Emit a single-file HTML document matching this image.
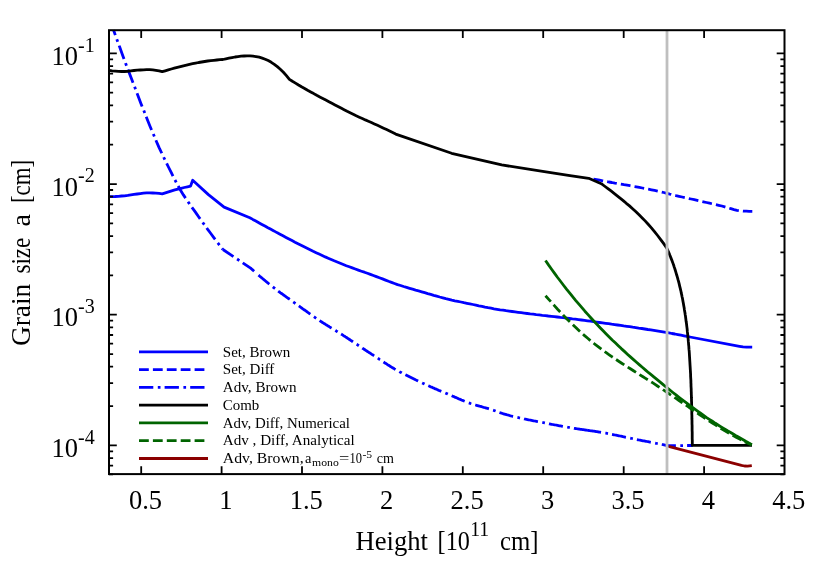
<!DOCTYPE html>
<html><head><meta charset="utf-8"><title>plot</title>
<style>
html,body{margin:0;padding:0;background:#fff;}
svg{display:block;will-change:transform;font-family:"Liberation Serif",serif;}
.tk{font-size:26.5px;fill:#000;}
.sup{font-size:20px;fill:#000;}
.lb{font-size:27px;fill:#000;}
.lg{font-size:14px;fill:#000;}
.lsub{font-size:10px;fill:#000;}
</style></head>
<body>
<svg width="830" height="581" viewBox="0 0 830 581">
<rect width="830" height="581" fill="#fff"/>
<g fill="none" stroke-width="2.8" stroke-linejoin="round">
<path d="M109.0 196.7 L112.1 196.6 L115.3 196.5 L118.4 196.3 L121.5 196.0 L124.6 195.8 L127.8 195.4 L130.9 194.9 L134.0 194.4 L137.2 194.0 L140.3 193.6 L143.4 193.2 L146.6 192.9 L149.7 192.9 L152.8 193.0 L155.9 193.1 L159.1 193.4 L162.2 193.8 L162.2 193.8 L165.4 192.8 L168.5 191.8 L171.7 190.8 L174.8 189.9 L178.0 189.1 L181.1 188.3 L184.3 187.5 L187.4 186.8 L190.6 186.1 L192.7 180.3 L208.4 194.6 L224.1 207.1 L224.1 207.1 L249.8 217.7 L249.8 217.7 L252.8 219.4 L255.8 221.0 L258.8 222.7 L261.9 224.4 L264.9 226.0 L267.9 227.7 L270.9 229.3 L273.9 230.9 L276.9 232.6 L280.0 234.2 L283.0 235.8 L286.0 237.4 L289.0 239.0 L292.0 240.6 L295.0 242.2 L298.0 243.7 L301.1 245.3 L304.1 246.8 L307.1 248.3 L310.1 249.8 L313.1 251.3 L316.1 252.7 L319.1 254.1 L322.2 255.5 L325.2 256.9 L328.2 258.2 L331.2 259.5 L334.2 260.8 L337.2 262.0 L340.3 263.3 L343.3 264.5 L346.3 265.7 L349.3 266.8 L352.3 267.9 L355.3 269.0 L358.3 270.1 L361.4 271.2 L364.4 272.2 L367.4 273.3 L370.4 274.4 L373.4 275.5 L376.4 276.6 L379.4 277.7 L382.5 278.9 L385.5 280.1 L388.5 281.3 L391.5 282.4 L394.5 283.5 L397.5 284.6 L400.6 285.5 L403.6 286.5 L406.6 287.4 L409.6 288.3 L412.6 289.2 L415.6 290.1 L418.6 290.9 L421.7 291.8 L424.7 292.7 L427.7 293.6 L430.7 294.4 L433.7 295.3 L436.7 296.1 L439.7 297.0 L442.8 297.8 L445.8 298.6 L448.8 299.3 L451.8 300.1 L454.8 300.8 L457.8 301.4 L460.9 302.0 L463.9 302.7 L466.9 303.3 L469.9 303.9 L472.9 304.5 L475.9 305.1 L478.9 305.8 L482.0 306.4 L485.0 307.1 L488.0 307.7 L491.0 308.2 L494.0 308.8 L497.0 309.3 L500.1 309.8 L503.1 310.2 L506.1 310.7 L509.1 311.1 L512.1 311.5 L515.1 311.9 L518.1 312.3 L521.2 312.7 L524.2 313.1 L527.2 313.5 L530.2 313.9 L533.2 314.2 L536.2 314.6 L539.2 314.9 L542.3 315.3 L545.3 315.6 L548.3 316.0 L551.3 316.3 L554.3 316.6 L557.3 317.0 L560.4 317.4 L563.4 317.7 L566.4 318.1 L569.4 318.5 L572.4 318.9 L575.4 319.2 L578.4 319.6 L581.5 320.0 L584.5 320.4 L587.5 320.8 L590.5 321.2 L593.5 321.7 L596.5 322.1 L599.5 322.5 L602.6 322.9 L605.6 323.3 L608.6 323.7 L611.6 324.2 L614.6 324.6 L617.6 325.0 L620.7 325.4 L623.7 325.9 L626.7 326.3 L629.7 326.7 L632.7 327.2 L635.7 327.6 L638.7 328.1 L641.8 328.5 L644.8 329.0 L647.8 329.5 L650.8 329.9 L653.8 330.4 L656.8 330.9 L659.8 331.4 L662.9 331.9 L665.9 332.4 L668.9 332.9 L671.9 333.5 L674.9 334.0 L677.9 334.6 L681.0 335.2 L684.0 335.8 L687.0 336.4 L690.0 337.0 L690.0 337.0 L739.5 346.3 L743.0 346.9 L746.5 347.2 L752.2 347.2" stroke="#00f"/>
<path d="M593.5 179.0 L596.6 179.6 L599.6 180.2 L602.7 180.8 L605.7 181.4 L608.8 182.0 L611.8 182.5 L614.9 183.1 L617.9 183.6 L621.0 184.1 L624.0 184.7 L627.1 185.2 L630.1 185.7 L633.2 186.3 L636.3 186.8 L639.3 187.4 L642.4 188.0 L645.4 188.6 L648.5 189.2 L651.5 189.8 L654.6 190.4 L657.6 191.1 L660.7 191.8 L663.7 192.5 L666.8 193.3 L669.8 194.1 L672.9 194.8 L676.0 195.6 L679.0 196.3 L682.1 197.0 L685.1 197.7 L688.2 198.4 L691.2 199.0 L694.3 199.7 L697.3 200.4 L700.4 201.1 L703.4 201.8 L706.5 202.5 L709.5 203.2 L712.6 203.9 L715.7 204.6 L718.7 205.3 L721.8 206.0 L724.8 206.9 L727.9 207.8 L730.9 208.7 L734.0 209.6 L737.0 210.3 L740.1 210.8 L743.1 211.1 L746.2 211.2 L749.2 211.4 L752.3 211.4" stroke="#00f" stroke-dasharray="9.8 4.1"/>
<path d="M113.6 30.2 L116.6 38.7 L119.7 47.1 L122.7 55.4 L125.7 63.6 L128.8 71.7 L131.8 79.6 L134.9 87.6 L137.9 95.5 L140.9 103.4 L144.0 111.1 L147.0 118.8 L150.0 126.3 L153.1 133.6 L156.1 140.7 L159.1 147.6 L162.2 154.2 L165.2 160.4 L168.2 166.5 L171.3 172.7 L174.3 178.7 L177.4 184.6 L180.4 190.0 L183.4 194.9 L186.5 199.5 L189.5 203.9 L192.5 208.2 L195.6 212.4 L198.6 216.7 L201.6 221.0 L204.7 225.2 L207.7 229.4 L210.8 233.5 L213.8 237.6 L216.8 241.6 L219.9 245.6 L222.9 249.5" stroke="#00f" stroke-dasharray="14.2 4.4 2.7 4.1" stroke-dashoffset="9"/>
<path d="M222.9 249.5 L250.6 268.1 L250.6 268.1 L251.6 269.0 L252.6 269.9 L253.6 270.8 L254.6 271.7 L255.6 272.6 L256.5 273.4" stroke="#00f" stroke-dasharray="14.2 4.4 2.7 4.1" stroke-dashoffset="1.5"/>
<path d="M258.5 275.1 L259.5 276.0 L260.5 276.8 L261.5 277.7 L262.5 278.5 L263.5 279.3 L264.5 280.2 L265.5 281.0 L266.5 281.8 L267.5 282.7 L268.5 283.5 L269.5 284.3 L270.5 285.1 L271.5 285.9 L272.5 286.7 L273.5 287.5 L274.5 288.2 L275.5 289.0 L276.5 289.8 L277.5 290.5 L278.5 291.3 L279.5 292.0 L280.5 292.8 L281.5 293.5 L282.5 294.2 L283.5 295.0 L284.5 295.7 L285.5 296.4 L286.5 297.1 L287.5 297.8 L288.5 298.5 L289.5 299.2 L290.5 299.9 L291.5 300.6 L292.5 301.4 L293.5 302.1 L294.5 302.8 L295.5 303.5 L296.5 304.2 L297.5 304.9 L298.5 305.7 L299.5 306.4 L300.5 307.1 L301.5 307.8 L302.5 308.6 L303.5 309.3 L304.5 310.0 L305.5 310.7 L306.5 311.4 L307.5 312.2 L308.5 312.9 L309.5 313.6 L310.5 314.3 L311.5 315.0 L312.5 315.7 L313.5 316.4 L314.5 317.1 L315.5 317.8 L316.5 318.5 L317.5 319.2 L318.5 319.8 L319.5 320.5 L320.5 321.2 L321.5 321.8 L322.5 322.5 L323.5 323.1 L324.5 323.7 L325.5 324.4 L326.5 325.0 L327.5 325.6 L328.5 326.2 L329.5 326.9 L330.5 327.5 L331.5 328.1 L332.5 328.7 L333.5 329.3 L334.5 329.9 L335.5 330.5 L336.5 331.2 L337.5 331.8 L338.5 332.4 L339.5 333.0 L340.5 333.7 L341.5 334.3 L342.5 334.9 L343.5 335.6 L344.5 336.2 L345.5 336.9 L346.5 337.5 L347.5 338.2 L348.5 338.8 L349.5 339.5 L350.5 340.2 L351.5 340.8 L352.5 341.5 L353.5 342.2 L354.5 342.8 L355.5 343.5 L356.5 344.2 L357.5 344.8 L358.5 345.5 L359.5 346.2 L360.5 346.8 L361.5 347.5 L362.5 348.2 L363.5 348.8 L364.5 349.5 L365.5 350.2 L366.5 350.8 L367.5 351.5 L368.5 352.1 L369.5 352.8 L370.5 353.4 L371.5 354.1 L372.5 354.7 L373.5 355.4 L374.5 356.1 L375.5 356.7 L376.5 357.4 L377.5 358.0 L378.5 358.7 L379.5 359.4 L380.5 360.0 L381.5 360.7 L382.5 361.3 L383.5 362.0 L384.5 362.7 L385.5 363.3 L386.5 363.9 L387.5 364.6 L388.5 365.2 L389.5 365.8 L390.5 366.5 L391.5 367.1 L392.5 367.7 L393.5 368.3 L394.5 368.9 L395.5 369.4 L396.5 370.0 L397.5 370.6 L398.5 371.1 L399.5 371.7 L400.5 372.2 L401.5 372.7 L402.5 373.3 L403.5 373.8 L404.5 374.3 L405.5 374.8 L406.5 375.3 L407.5 375.8 L408.5 376.3 L409.5 376.8 L410.5 377.3 L411.5 377.8 L412.5 378.3 L413.5 378.8 L414.5 379.3 L415.5 379.8 L416.5 380.2 L417.5 380.7 L418.5 381.2 L419.5 381.7 L420.5 382.1 L421.5 382.6 L422.5 383.1 L423.5 383.5 L424.5 384.0 L425.5 384.5 L426.5 384.9 L427.5 385.4 L428.5 385.8 L429.5 386.2 L430.5 386.7 L431.5 387.1 L432.5 387.6 L433.5 388.0 L434.5 388.4 L435.5 388.9 L436.5 389.3 L437.5 389.7 L438.5 390.2 L439.5 390.6 L440.5 391.0 L441.5 391.4 L442.5 391.8 L443.5 392.3 L444.5 392.7 L445.5 393.1 L446.5 393.5 L447.5 393.9 L448.5 394.4 L449.5 394.8 L450.5 395.2 L451.5 395.6 L452.5 396.1 L453.5 396.5 L454.5 396.9 L455.5 397.4 L456.5 397.8 L457.5 398.2 L458.5 398.7 L459.5 399.1 L460.5 399.5 L461.5 400.0 L462.5 400.4 L463.5 400.8 L464.5 401.2 L465.5 401.6 L466.5 402.0 L467.5 402.4 L468.5 402.8 L469.5 403.1 L470.5 403.5 L471.5 403.8 L472.5 404.1 L473.5 404.4 L474.5 404.7 L475.5 405.0 L476.5 405.3 L477.5 405.6 L478.5 405.9 L479.5 406.2 L480.5 406.4 L481.5 406.7 L482.5 407.0 L483.5 407.3 L484.5 407.5 L485.5 407.8 L486.5 408.1 L487.5 408.4 L488.5 408.7 L489.5 409.0 L490.5 409.3 L491.5 409.6 L492.5 410.0 L493.5 410.3 L494.5 410.7 L495.5 411.0 L496.5 411.4 L497.5 411.7 L498.5 412.1 L499.5 412.5 L500.5 412.8 L501.5 413.2 L502.5 413.5 L503.5 413.8 L504.5 414.1 L505.5 414.4 L506.5 414.7 L507.5 415.0 L508.5 415.2 L509.5 415.5 L510.5 415.8 L511.5 416.0 L512.5 416.3 L513.5 416.5 L514.5 416.7 L515.5 417.0 L516.5 417.2 L517.5 417.4 L518.5 417.7 L519.5 417.9 L520.5 418.1 L521.5 418.3 L522.5 418.5 L523.5 418.7 L524.5 419.0 L525.5 419.2 L526.5 419.4 L527.5 419.6 L528.5 419.8 L529.5 420.0 L530.5 420.2 L531.5 420.4 L532.5 420.6 L533.5 420.8 L534.5 421.0 L535.5 421.2 L536.5 421.4 L537.5 421.6 L538.5 421.8 L539.5 421.9 L540.5 422.1 L541.5 422.3 L542.5 422.5 L543.5 422.7 L544.5 422.9 L545.5 423.1 L546.5 423.3 L547.5 423.5 L548.5 423.7 L549.5 423.9 L550.5 424.1 L551.5 424.3 L552.5 424.5 L553.5 424.7 L554.5 424.8 L555.5 425.0 L556.5 425.2 L557.5 425.4 L558.5 425.6 L559.5 425.8 L560.5 425.9 L561.5 426.1 L562.5 426.3 L563.5 426.5 L564.5 426.7 L565.5 426.8 L566.5 427.0 L567.5 427.2 L568.5 427.3 L569.5 427.5 L570.5 427.7 L571.5 427.9 L572.5 428.0 L573.5 428.2 L574.5 428.4 L575.5 428.5 L576.5 428.7 L577.5 428.8 L578.5 429.0 L579.5 429.1 L580.5 429.3 L581.5 429.4 L582.5 429.6 L583.5 429.7 L584.5 429.9 L585.5 430.0 L586.5 430.2 L587.0 430.2" stroke="#00f" stroke-dasharray="14.2 4.4 2.7 4.1"/>
<path d="M587.0 430.2 L588.0 430.4 L589.0 430.5 L590.0 430.7 L591.0 430.8 L592.0 430.9 L593.0 431.1 L594.0 431.2 L595.0 431.4 L596.0 431.5 L597.0 431.7 L598.0 431.9 L599.0 432.0 L600.0 432.2 L601.0 432.4 L602.0 432.5 L603.0 432.7 L604.0 432.9 L605.0 433.1 L606.0 433.2 L607.0 433.4 L608.0 433.6 L609.0 433.8 L610.0 434.0 L611.0 434.2 L612.0 434.4 L613.0 434.6 L614.0 434.8 L615.0 435.0 L616.0 435.2 L617.0 435.4 L618.0 435.6 L619.0 435.8 L620.0 436.0 L621.0 436.2 L622.0 436.4 L623.0 436.7 L624.0 436.9 L625.0 437.1 L626.0 437.3 L627.0 437.5 L628.0 437.7 L629.0 437.9 L630.0 438.1 L631.0 438.3 L632.0 438.5 L633.0 438.7 L634.0 439.0 L635.0 439.2 L636.0 439.4 L637.0 439.6 L638.0 439.8 L639.0 440.0 L640.0 440.2 L641.0 440.4 L642.0 440.6 L643.0 440.8 L644.0 440.9 L645.0 441.1 L646.0 441.3 L647.0 441.5 L648.0 441.7 L649.0 441.9 L650.0 442.1 L651.0 442.3 L652.0 442.5 L653.0 442.7 L654.0 442.9 L655.0 443.1 L656.0 443.3 L657.0 443.5 L658.0 443.7 L659.0 443.9 L660.0 444.1 L661.0 444.3 L662.0 444.5 L663.0 444.7 L664.0 444.9 L665.0 445.1 L666.0 445.3 L667.0 445.5 L667.6 445.6 L667.6 445.6 L692.7 445.5" stroke="#00f" stroke-dasharray="14.2 4.4 2.7 4.1"/>
<path d="M109.0 70.3 L112.1 70.8 L115.3 71.1 L118.4 71.4 L121.5 71.5 L124.6 71.5 L127.8 71.3 L130.9 70.9 L134.0 70.5 L137.2 70.2 L140.3 70.0 L143.4 69.8 L146.6 69.6 L149.7 69.6 L152.8 69.9 L155.9 70.3 L159.1 70.9 L162.2 71.7 L162.2 71.7 L165.2 70.8 L168.3 69.9 L171.3 69.0 L174.3 68.2 L177.4 67.4 L180.4 66.6 L183.4 65.8 L186.5 65.1 L189.5 64.4 L192.6 63.7 L195.6 63.1 L198.6 62.5 L201.7 62.0 L204.7 61.5 L207.7 61.0 L210.8 60.6 L213.8 60.3 L216.8 60.0 L219.9 59.7 L222.9 59.5 L222.9 59.5 L225.9 58.8 L228.9 58.2 L232.0 57.6 L235.0 57.0 L238.0 56.6 L241.0 56.2 L244.1 56.0 L247.1 55.9 L250.1 55.9 L253.1 56.2 L256.1 56.6 L259.2 57.2 L262.2 58.1 L265.2 59.2 L268.2 60.6 L271.3 62.3 L274.3 64.3 L277.3 66.6 L280.3 69.2 L283.4 72.2 L286.4 75.6 L289.4 79.4 L289.4 79.4 L292.4 81.3 L295.5 83.1 L298.5 85.0 L301.5 86.8 L304.6 88.5 L307.6 90.3 L310.7 92.0 L313.7 93.6 L316.7 95.3 L319.8 96.9 L322.8 98.5 L325.8 100.1 L328.9 101.7 L331.9 103.3 L335.0 104.9 L338.0 106.5 L341.0 108.1 L344.1 109.7 L347.1 111.3 L350.1 112.8 L353.2 114.3 L356.2 115.8 L359.3 117.2 L362.3 118.5 L365.3 119.9 L368.4 121.2 L371.4 122.5 L374.4 123.9 L377.5 125.3 L380.5 126.7 L383.6 128.2 L386.6 129.6 L389.6 131.1 L392.7 132.6 L395.7 134.1 L395.7 134.1 L451.6 153.3 L501.7 164.9 L544.3 171.7 L570.0 175.7 L588.7 178.3 L588.7 178.3 L601.3 183.7 L601.3 183.7 L604.4 186.0 L607.6 188.3 L610.7 190.7 L613.8 193.1 L616.9 195.6 L620.1 198.1 L623.2 200.6 L626.3 203.3 L629.5 205.9 L632.6 208.7 L635.7 211.6 L638.8 214.6 L642.0 217.7 L645.1 220.9 L648.2 224.3 L651.4 227.9 L654.5 231.6 L657.6 235.5 L660.7 239.6 L663.9 243.9 L667.0 248.5 L667.0 248.5 L667.7 250.2 L668.5 251.8 L669.2 253.5 L669.8 255.1 L670.5 256.8 L671.1 258.4 L671.8 260.1 L672.4 261.7 L673.0 263.4 L673.6 265.0 L674.1 266.7 L674.7 268.4 L675.2 270.0 L675.7 271.7 L676.2 273.3 L676.7 275.0 L677.2 276.6 L677.7 278.3 L678.1 279.9 L678.6 281.6 L679.0 283.2 L679.4 284.9 L679.8 286.6 L680.2 288.2 L680.6 289.9 L681.0 291.5 L681.3 293.2 L681.7 294.8 L682.0 296.5 L682.4 298.1 L682.7 299.8 L683.0 301.4 L683.3 303.1 L683.6 304.8 L683.9 306.4 L684.2 308.1 L684.4 309.7 L684.7 311.4 L685.0 313.0 L685.2 314.7 L685.5 316.3 L685.7 318.0 L685.9 319.6 L686.1 321.3 L686.4 323.0 L686.6 324.6 L686.8 326.3 L687.0 327.9 L687.2 329.6 L687.3 331.2 L687.5 332.9 L687.7 334.5 L687.9 336.2 L688.0 337.8 L688.2 339.5 L688.3 341.2 L688.5 342.8 L688.6 344.5 L688.8 346.1 L688.9 347.8 L689.0 349.4 L689.2 351.1 L689.3 352.7 L689.4 354.4 L689.5 356.1 L689.6 357.7 L689.7 359.4 L689.8 361.0 L689.9 362.7 L690.0 364.3 L690.1 366.0 L690.2 367.6 L690.3 369.3 L690.4 370.9 L690.5 372.6 L690.6 374.3 L690.6 375.9 L690.7 377.6 L690.8 379.2 L690.9 380.9 L690.9 382.5 L691.0 384.2 L691.0 385.8 L691.1 387.5 L691.2 389.1 L691.2 390.8 L691.3 392.5 L691.3 394.1 L691.4 395.8 L691.4 397.4 L691.5 399.1 L691.5 400.7 L691.6 402.4 L691.6 404.0 L691.7 405.7 L691.7 407.3 L691.7 409.0 L691.8 410.7 L691.8 412.3 L691.8 414.0 L691.9 415.6 L691.9 417.3 L691.9 418.9 L692.0 420.6 L692.0 422.2 L692.0 423.9 L692.1 425.5 L692.1 427.2 L692.1 428.9 L692.1 430.5 L692.2 432.2 L692.2 433.8 L692.2 435.5 L692.2 437.1 L692.2 438.8 L692.3 440.4 L692.3 442.1 L692.3 443.7 L692.3 445.4 L692.7 445.4 L752.0 445.4" stroke="#000"/>
<path d="M545.5 260.5 L548.5 264.9 L551.6 269.2 L554.6 273.4 L557.6 277.5 L560.7 281.5 L563.7 285.5 L566.7 289.4 L569.8 293.2 L572.8 296.9 L575.8 300.6 L578.9 304.2 L581.9 307.7 L584.9 311.2 L588.0 314.6 L591.0 318.0 L594.0 321.3 L597.1 324.5 L600.1 327.7 L603.1 330.8 L606.2 333.9 L609.2 336.9 L612.2 339.9 L615.3 342.8 L618.3 345.7 L621.3 348.6 L624.4 351.4 L627.4 354.2 L630.4 356.9 L633.5 359.6 L636.5 362.3 L639.5 364.9 L642.6 367.5 L645.6 370.1 L648.6 372.7 L651.7 375.2 L654.7 377.7 L657.8 380.2 L660.8 382.7 L663.8 385.2 L666.9 387.6 L669.9 390.1 L672.9 392.5 L676.0 394.9 L679.0 397.3 L682.0 399.6 L685.1 401.9 L688.1 404.2 L691.1 406.5 L694.2 408.7 L697.2 410.9 L700.2 413.0 L703.3 415.2 L706.3 417.3 L709.3 419.3 L712.4 421.3 L715.4 423.3 L718.4 425.2 L721.5 427.1 L724.5 428.9 L727.5 430.8 L730.6 432.5 L733.6 434.3 L736.6 436.1 L739.7 437.8 L742.7 439.5 L745.7 441.3 L748.8 443.0 L751.8 444.7" stroke="#006400"/>
<path d="M545.5 295.7 L548.5 299.1 L551.6 302.5 L554.6 305.9 L557.6 309.2 L560.7 312.4 L563.7 315.6 L566.7 318.7 L569.8 321.7 L572.8 324.7 L575.8 327.6 L578.9 330.5 L581.9 333.2 L584.9 335.9 L588.0 338.5 L591.0 341.1 L594.0 343.5 L597.1 345.9 L600.1 348.2 L603.1 350.5 L606.2 352.7 L609.2 354.8 L612.2 356.9 L615.3 359.0 L618.3 361.0 L621.3 363.0 L624.4 365.0 L627.4 366.9 L630.4 368.8 L633.5 370.8 L636.5 372.7 L639.5 374.6 L642.6 376.5 L645.6 378.4 L648.6 380.3 L651.7 382.2 L654.7 384.2 L657.8 386.2 L660.8 388.2 L663.8 390.2 L666.9 392.2 L669.9 394.3 L672.9 396.3 L676.0 398.4 L679.0 400.5 L682.0 402.6 L685.1 404.7 L688.1 406.7 L691.1 408.8 L694.2 410.9 L697.2 412.9 L700.2 415.0 L703.3 417.0 L706.3 419.0 L709.3 421.0 L712.4 423.0 L715.4 424.9 L718.4 426.8 L721.5 428.7 L724.5 430.5 L727.5 432.3 L730.6 434.1 L733.6 435.8 L736.6 437.5 L739.7 439.1 L742.7 440.6 L745.7 442.2 L748.8 443.6 L751.8 445.0" stroke="#006400" stroke-dasharray="9.8 4.1" stroke-dashoffset="1.8"/>
<path d="M668.5 446.3 L741.5 465.4 L744.5 466.0 L747.5 466.1 L751.8 465.6" stroke="#8b0000"/>
</g>
<path d="M667 30.2 V474.1" stroke="#bfbfbf" stroke-width="2.78" fill="none"/>
<path d="M141.2 474.1 V466.3 M141.2 30.2 V38.0 M221.6 474.1 V466.3 M221.6 30.2 V38.0 M302.0 474.1 V466.3 M302.0 30.2 V38.0 M382.4 474.1 V466.3 M382.4 30.2 V38.0 M462.8 474.1 V466.3 M462.8 30.2 V38.0 M543.2 474.1 V466.3 M543.2 30.2 V38.0 M623.7 474.1 V466.3 M623.7 30.2 V38.0 M704.1 474.1 V466.3 M704.1 30.2 V38.0 M109.0 474.4 H113.1 M784.5 474.4 H780.4 M109.0 465.6 H113.1 M784.5 465.6 H780.4 M109.0 458.1 H113.1 M784.5 458.1 H780.4 M109.0 451.4 H113.1 M784.5 451.4 H780.4 M109.0 445.4 H116.8 M784.5 445.4 H776.7 M109.0 406.1 H113.1 M784.5 406.1 H780.4 M109.0 383.1 H113.1 M784.5 383.1 H780.4 M109.0 366.7 H113.1 M784.5 366.7 H780.4 M109.0 354.1 H113.1 M784.5 354.1 H780.4 M109.0 343.7 H113.1 M784.5 343.7 H780.4 M109.0 335.0 H113.1 M784.5 335.0 H780.4 M109.0 327.4 H113.1 M784.5 327.4 H780.4 M109.0 320.7 H113.1 M784.5 320.7 H780.4 M109.0 314.7 H116.8 M784.5 314.7 H776.7 M109.0 275.4 H113.1 M784.5 275.4 H780.4 M109.0 252.4 H113.1 M784.5 252.4 H780.4 M109.0 236.1 H113.1 M784.5 236.1 H780.4 M109.0 223.4 H113.1 M784.5 223.4 H780.4 M109.0 213.1 H113.1 M784.5 213.1 H780.4 M109.0 204.3 H113.1 M784.5 204.3 H780.4 M109.0 196.7 H113.1 M784.5 196.7 H780.4 M109.0 190.0 H113.1 M784.5 190.0 H780.4 M109.0 184.1 H116.8 M784.5 184.1 H776.7 M109.0 144.7 H113.1 M784.5 144.7 H780.4 M109.0 121.7 H113.1 M784.5 121.7 H780.4 M109.0 105.4 H113.1 M784.5 105.4 H780.4 M109.0 92.7 H113.1 M784.5 92.7 H780.4 M109.0 82.4 H113.1 M784.5 82.4 H780.4 M109.0 73.6 H113.1 M784.5 73.6 H780.4 M109.0 66.1 H113.1 M784.5 66.1 H780.4 M109.0 59.4 H113.1 M784.5 59.4 H780.4 M109.0 53.4 H116.8 M784.5 53.4 H776.7" stroke="#000" stroke-width="1.8" fill="none"/>
<rect x="109.0" y="30.2" width="675.5" height="443.90000000000003" fill="none" stroke="#000" stroke-width="2"/>
<text class="tk" x="145.5" y="509.2" text-anchor="middle">0.5</text>
<text class="tk" x="225.9" y="509.2" text-anchor="middle">1</text>
<text class="tk" x="306.3" y="509.2" text-anchor="middle">1.5</text>
<text class="tk" x="386.7" y="509.2" text-anchor="middle">2</text>
<text class="tk" x="467.1" y="509.2" text-anchor="middle">2.5</text>
<text class="tk" x="547.5" y="509.2" text-anchor="middle">3</text>
<text class="tk" x="628.0" y="509.2" text-anchor="middle">3.5</text>
<text class="tk" x="708.4" y="509.2" text-anchor="middle">4</text>
<text class="tk" x="788.8" y="509.2" text-anchor="middle">4.5</text>
<text class="tk" x="51.5" y="64.8">10<tspan class="sup" dy="-13.3">-1</tspan></text>
<text class="tk" x="51.5" y="195.5">10<tspan class="sup" dy="-13.3">-2</tspan></text>
<text class="tk" x="51.5" y="326.1">10<tspan class="sup" dy="-13.3">-3</tspan></text>
<text class="tk" x="51.5" y="456.8">10<tspan class="sup" dy="-13.3">-4</tspan></text>
<text class="lb" x="355.4" y="549.5" textLength="72.6" lengthAdjust="spacingAndGlyphs">Height</text>
<text class="lb" x="437.6" y="549.5" textLength="32.2" lengthAdjust="spacingAndGlyphs">[10</text>
<text class="sup" x="470.2" y="536.3" textLength="19" lengthAdjust="spacingAndGlyphs">11</text>
<text class="lb" x="500.0" y="549.5" textLength="38.5" lengthAdjust="spacingAndGlyphs">cm]</text>
<text class="lb" transform="translate(29.5 346.1) rotate(-90)" textLength="62.4" lengthAdjust="spacingAndGlyphs">Grain</text>
<text class="lb" transform="translate(29.5 273.6) rotate(-90)" textLength="35.9" lengthAdjust="spacingAndGlyphs">size</text>
<text class="lb" transform="translate(29.5 226.6) rotate(-90)" textLength="12.4" lengthAdjust="spacingAndGlyphs">a</text>
<text class="lb" transform="translate(29.5 203.0) rotate(-90)" textLength="43" lengthAdjust="spacingAndGlyphs">[cm]</text>
<path d="M139 351.8 H208" stroke="#00f" stroke-width="2.8" fill="none"/>
<text class="lg" x="222.8" y="356.5" textLength="67.5" lengthAdjust="spacingAndGlyphs">Set, Brown</text>
<path d="M139 369.6 H208" stroke="#00f" stroke-dasharray="9.8 4.1" stroke-width="2.8" fill="none"/>
<text class="lg" x="222.8" y="374.2" textLength="51.6" lengthAdjust="spacingAndGlyphs">Set, Diff</text>
<path d="M139 387.4 H208" stroke="#00f" stroke-dasharray="14.3 4.5 2.7 4.1" stroke-width="2.8" fill="none"/>
<text class="lg" x="222.8" y="392.0" textLength="73.8" lengthAdjust="spacingAndGlyphs">Adv, Brown</text>
<path d="M139 405.1 H208" stroke="#000" stroke-width="2.8" fill="none"/>
<text class="lg" x="222.8" y="409.8" textLength="36.5" lengthAdjust="spacingAndGlyphs">Comb</text>
<path d="M139 422.9 H208" stroke="#006400" stroke-width="2.8" fill="none"/>
<text class="lg" x="222.8" y="427.5" textLength="127.1" lengthAdjust="spacingAndGlyphs">Adv, Diff, Numerical</text>
<path d="M139 440.7 H208" stroke="#006400" stroke-dasharray="9.8 4.1" stroke-width="2.8" fill="none"/>
<text class="lg" x="222.8" y="445.2" textLength="131.9" lengthAdjust="spacingAndGlyphs">Adv , Diff, Analytical</text>
<path d="M139 458.5 H208" stroke="#8b0000" stroke-width="2.8" fill="none"/>
<text class="lg" x="222.8" y="462.9" textLength="80.8" lengthAdjust="spacingAndGlyphs">Adv, Brown,</text>
<text class="lg" x="305.1" y="462.9" textLength="6.4" lengthAdjust="spacingAndGlyphs">a</text>
<text class="lsub" x="312.1" y="466.3" textLength="26.7" lengthAdjust="spacingAndGlyphs">mono</text>
<text class="lg" x="339.0" y="462.9" textLength="10.3" lengthAdjust="spacingAndGlyphs">=</text>
<text class="lg" x="349.5" y="462.9" textLength="12.5" lengthAdjust="spacingAndGlyphs">10</text>
<text class="lsub" x="362.4" y="457.9" textLength="9.7" lengthAdjust="spacingAndGlyphs">-5</text>
<text class="lg" x="376.7" y="462.9" textLength="17.2" lengthAdjust="spacingAndGlyphs">cm</text>
</svg>
</body></html>
